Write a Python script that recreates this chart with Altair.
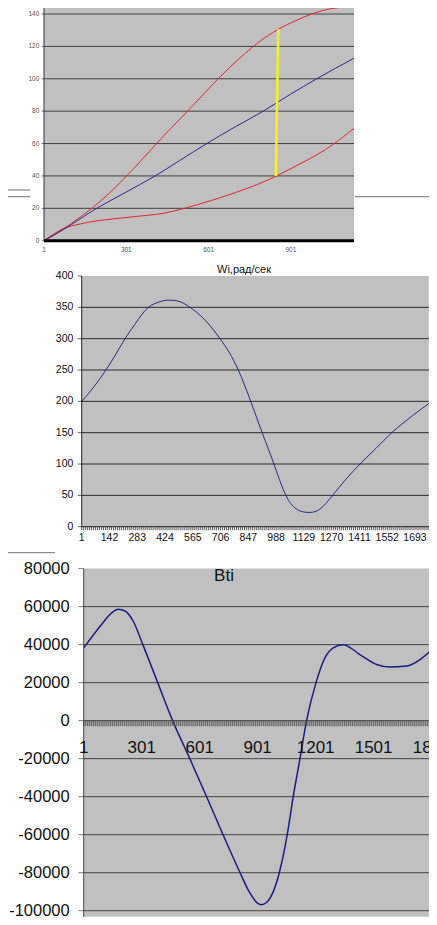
import altair as alt
import pandas as pd

# ---------------- Panel 1 (three curves + yellow segment) ----------------
p1_upper_x = [1, 60, 120, 175, 240, 302, 355, 411, 468, 524, 580, 636, 700, 764, 810, 855, 920, 977, 1055, 1131]
p1_upper_y = [0, 6.0, 13, 20, 29.5, 40, 49.5, 60, 70.2, 80, 90, 100, 110.5, 120, 125.8, 130.6, 136, 140, 143.5, 144.5]
p1_blue_x = [1, 71, 193, 300, 406, 500, 594, 700, 800, 900, 995, 1131]
p1_blue_y = [0, 6.8, 20, 30, 40, 50, 60, 70.5, 80, 90.5, 100, 112.7]
p1_lower_x = [1, 40, 71, 132, 193, 250, 314, 380, 436, 502, 560, 620, 700, 780, 849, 934, 1000, 1055, 1131]
p1_lower_y = [0, 4.5, 7.4, 10.3, 12.2, 13.4, 14.6, 15.7, 16.9, 19.5, 22.2, 25.3, 29.8, 34.8, 40, 47.5, 53.5, 59.5, 69.4]
p1_yellow = {"x": [846], "x2": [855], "y": [40], "y2": [130.6]}
p1_xdomain = [1, 1131]
p1_ydomain = [0, 146]
p1_yticks = [0, 20, 40, 60, 80, 100, 120, 140]
p1_xlabels = [1, 301, 601, 901]

# ---------------- Panel 2 (Wi) ----------------
p2_title = "Wi,рад/сек"
p2_x = [1, 60, 124, 170, 221, 271, 339, 390, 441, 490, 551, 620, 703, 750, 796, 859, 917, 977, 1005,
        1030, 1055, 1083, 1110, 1140, 1160, 1185, 1210, 1240, 1275, 1340, 1414, 1495, 1575, 1680, 1779]
p2_y = [200, 222, 250, 273, 300, 323, 350, 358, 361.5, 360, 350, 332, 300, 278, 250, 200, 150, 100, 75,
        55, 40, 30, 25, 23, 22.8, 24, 28, 37, 50, 75, 100, 125, 150, 177, 200]
p2_xdomain = [1, 1763]
p2_ydomain = [0, 400]
p2_yticks = [0, 50, 100, 150, 200, 250, 300, 350, 400]
p2_xlabels = [1, 142, 283, 424, 565, 706, 847, 988, 1129, 1270, 1411, 1552, 1693]

# ---------------- Panel 3 (Bti) ----------------
p3_title = "Bti"
p3_x = [1, 85, 154, 180, 215, 258, 307, 384, 461, 550, 637, 722, 810, 857, 900, 920, 947, 1013, 1054,
        1085, 1120, 1154, 1203, 1249, 1292, 1344, 1430, 1517, 1585, 1672, 1741, 1810, 1829]
p3_y = [38260, 49560, 57390, 58600, 57700, 52170, 40000, 20000, 0, -20000, -40000, -60000, -80000,
        -90000, -96000, -96860, -95650, -80000, -60000, -40000, -20000, 0, 20000, 33040, 38260, 40000,
        34780, 29560, 28170, 28700, 32170, 38260, 40500]
p3_xdomain = [1, 1787]
p3_ydomain = [-103200, 80000]
p3_yticks = [-100000, -80000, -60000, -40000, -20000, 0, 20000, 40000, 60000, 80000]
p3_xlabels = [1, 301, 601, 901, 1201, 1501, 1801]

W, H = 421, 909
FONT = "Liberation Sans"
GRAY = "#c0c0c0"


def panel(xd, yd, xs, ys, grid_vals, grid_color, yticks, ytick_len, ylab_dx, ylab_size, ylab_color,
          xticks, xtick_len, xtick_w, xlabels, xlab_dy, xlab_size, xlab_color, xdomain_width, axis_color,
          marks):
    bg = alt.Chart(pd.DataFrame({"x0": [xd[0]], "x1": [xd[1]], "y0": [yd[0]], "y1": [yd[1]]})).mark_rect(
        color=GRAY).encode(
        x=alt.X("x0:Q", scale=xs, axis=None), x2="x1:Q",
        y=alt.Y("y0:Q", scale=ys, axis=None), y2="y1:Q")
    grid = alt.Chart(pd.DataFrame({"v": grid_vals, "x0": xd[0], "x1": xd[1]})).mark_rule(
        color=grid_color, strokeWidth=1).encode(
        x=alt.X("x0:Q", axis=None), x2="x1:Q", y=alt.Y("v:Q", axis=None))
    ydf = pd.DataFrame({"v": yticks, "x0": xd[0], "t": [str(v) for v in yticks]})
    ytk = alt.Chart(ydf).mark_tick(orient="horizontal", size=ytick_len, thickness=1, color=axis_color,
                                   xOffset=-ytick_len / 2).encode(
        x=alt.X("x0:Q", axis=None), y=alt.Y("v:Q", axis=None))
    ylab = alt.Chart(ydf).mark_text(align="right", baseline="middle", dx=ylab_dx, font=FONT,
                                    fontSize=ylab_size, color=ylab_color).encode(
        x=alt.X("x0:Q", axis=None), y=alt.Y("v:Q", axis=None), text="t:N")
    ydom = alt.Chart(pd.DataFrame({"x0": [xd[0]], "y0": [yd[0]], "y1": [yd[1]]})).mark_rule(
        color=axis_color, strokeWidth=1).encode(
        x=alt.X("x0:Q", axis=None), y=alt.Y("y0:Q", axis=None), y2="y1:Q")
    layers = [bg, grid] + marks + [ytk, ylab, ydom]
    if xticks:
        xtk = alt.Chart(pd.DataFrame({"v": xticks, "y0": 0})).mark_tick(
            orient="vertical", size=xtick_len, thickness=xtick_w, color=axis_color,
            yOffset=xtick_len / 2).encode(
            x=alt.X("v:Q", axis=None), y=alt.Y("y0:Q", axis=None))
        layers.append(xtk)
    xdom = alt.Chart(pd.DataFrame({"x0": [xd[0]], "x1": [xd[1]], "y0": [0]})).mark_rule(
        color=axis_color if xdomain_width < 2 else "#000000", strokeWidth=xdomain_width).encode(
        x=alt.X("x0:Q", axis=None), x2="x1:Q", y=alt.Y("y0:Q", axis=None))
    xlab = alt.Chart(pd.DataFrame({"v": xlabels, "y0": 0, "t": [str(v) for v in xlabels]})).mark_text(
        align="center", baseline="top", dy=xlab_dy, font=FONT, fontSize=xlab_size, color=xlab_color).encode(
        x=alt.X("v:Q", axis=None), y=alt.Y("y0:Q", axis=None), text="t:N")
    layers += [xdom, xlab]
    return alt.layer(*layers)


def line(xv, yv, color, width):
    return alt.Chart(pd.DataFrame({"x": xv, "y": yv})).mark_line(
        color=color, strokeWidth=width, interpolate="monotone").encode(
        x=alt.X("x:Q", axis=None), y=alt.Y("y:Q", axis=None))


# ---------- Panel 1 ----------
p1_xs = alt.Scale(domain=p1_xdomain, range=[36, 346], nice=False, zero=False)
p1_ys = alt.Scale(domain=p1_ydomain, range=[232.7, -3.7], nice=False, zero=False)
p1_marks = [
    line(p1_lower_x, p1_lower_y, "#e0282e", 1),
    line(p1_upper_x, p1_upper_y, "#e0282e", 1),
    line(p1_blue_x, p1_blue_y, "#2a2a8c", 1),
    alt.Chart(pd.DataFrame(p1_yellow)).mark_rule(color="#f6f020", strokeWidth=2.6).encode(
        x=alt.X("x:Q", axis=None), x2="x2:Q", y=alt.Y("y:Q", axis=None), y2="y2:Q"),
]
panel1 = panel(p1_xdomain, p1_ydomain, p1_xs, p1_ys, p1_yticks[1:], "#404040",
               p1_yticks, 2.3, -4.7, 6.5, "#555555",
               None, 0, 1, p1_xlabels, 6.4, 6.5, "#555555", 3, "#333333", p1_marks)

# ---------- Panel 2 ----------
p2_ticks = [1 + i * 141 / 14 for i in range(176)]
p2_xs = alt.Scale(domain=p2_xdomain, range=[73.7, 420.8], nice=False, zero=False)
p2_ys = alt.Scale(domain=p2_ydomain, range=[518.7, 268], nice=False, zero=False)
p2_marks = [
    line(p2_x, p2_y, "#2a2a80", 1),
    alt.Chart(pd.DataFrame({"x": [825], "y": [400], "t": [p2_title]})).mark_text(
        font=FONT, fontSize=11, color="#111111", baseline="middle", align="center", dy=-6).encode(
        x=alt.X("x:Q", axis=None), y=alt.Y("y:Q", axis=None), text="t:N"),
]
panel2 = panel(p2_xdomain, p2_ydomain, p2_xs, p2_ys, p2_yticks[1:-1], "#2a2a2a",
               p2_yticks, 4, -8.3, 10.5, "#111111",
               p2_ticks, 3.5, 1.1, p2_xlabels, 6, 10.5, "#111111", 1, "#222222", p2_marks)

# ---------- Panel 3 ----------
p3_ticks = [1 + i * 10 for i in range(179)]
p3_xs = alt.Scale(domain=p3_xdomain, range=[75.7, 420.9], nice=False, zero=False)
p3_ys = alt.Scale(domain=p3_ydomain, range=[908.8, 560.6], nice=False, zero=False)
p3_marks = [
    line(p3_x, p3_y, "#1c1c82", 1.5),
    alt.Chart(pd.DataFrame({"x": [727], "y": [80000], "t": [p3_title]})).mark_text(
        font=FONT, fontSize=17, color="#111111", baseline="middle", align="center", dy=7.5).encode(
        x=alt.X("x:Q", axis=None), y=alt.Y("y:Q", axis=None), text="t:N"),
]
panel3 = panel(p3_xdomain, p3_ydomain, p3_xs, p3_ys,
               [v for v in p3_yticks if v not in (0, 80000)], "#444444",
               p3_yticks, 5.3, -14, 16.5, "#111111",
               p3_ticks, 5.5, 1.3, p3_xlabels, 19, 17, "#111111", 1, "#444444", p3_marks)

# ---------- chart-frame edges (decoration) ----------
one = pd.DataFrame({"a": [0]})
frames = alt.layer(
    alt.Chart(one).mark_rule(color="#707070", strokeWidth=1).encode(x=alt.value(347), x2=alt.value(421), y=alt.value(188.7)),
    alt.Chart(one).mark_rule(color="#707070", strokeWidth=1).encode(x=alt.value(0), x2=alt.value(22), y=alt.value(182)),
    alt.Chart(one).mark_rule(color="#707070", strokeWidth=1).encode(x=alt.value(0), x2=alt.value(22), y=alt.value(188.7)),
    alt.Chart(one).mark_rule(color="#707070", strokeWidth=1).encode(x=alt.value(0), x2=alt.value(47), y=alt.value(544.7)),
)

chart = alt.layer(panel1, panel2, panel3, frames).resolve_scale(
    x="independent", y="independent"
).properties(
    width=W, height=H, autosize=alt.AutoSizeParams(type="none"), padding=0, background="white"
).configure_view(stroke=None)

chart.save("out.html", embed_options={"renderer": "svg", "actions": False})
